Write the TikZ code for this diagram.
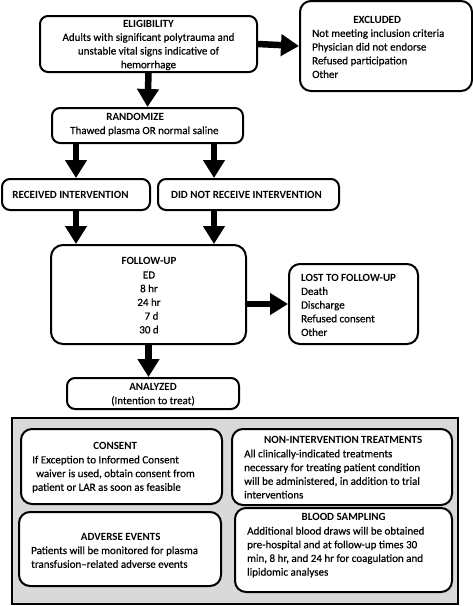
\documentclass[tikz,border=0pt]{standalone}
\usepackage{fontspec}
\setmainfont{Carlito}[UprightFeatures={FakeBold=0.4}]
\usetikzlibrary{arrows.meta}
\definecolor{panelgray}{RGB}{217,217,217}
\begin{document}
\begin{tikzpicture}[x=1pt,y=-1pt,
  frame/.style={draw, line width=2pt, rounded corners=#1, inner sep=0pt, fill=white},
  frame/.default=8pt,
  txt/.style={inner sep=0pt, font=\fontsize{11}{13.7}\selectfont},
  big/.style={-{Triangle[width=21pt,length=18pt]}, line width=6.5pt}]
\useasboundingbox (0,0) rectangle (473,606);

% ---- boxes ----
\node[frame, minimum width=217pt, minimum height=56pt] (elig) at (148.5,44) {};
\node[frame=11pt, minimum width=172pt, minimum height=90pt] (excl) at (386,46) {};
\node[frame, minimum width=191pt, minimum height=35pt] (rand) at (147.5,125.5) {};
\node[frame, minimum width=148pt, minimum height=31pt] (recv) at (76,194.5) {};
\node[frame, minimum width=181pt, minimum height=31pt] (nrecv) at (248.5,194.5) {};
\node[frame=12pt, minimum width=195pt, minimum height=99pt] (fu) at (148.5,294.5) {};
\node[frame=11pt, minimum width=129pt, minimum height=80pt] (lost) at (353.5,304) {};
\node[frame, minimum width=172pt, minimum height=31pt] (anal) at (153,393.5) {};

% ---- panel ----
\node[draw, line width=2pt, fill=panelgray, minimum width=446pt, minimum height=186pt, inner sep=0pt] (panel) at (235,511) {};
\node[frame=11pt, minimum width=201pt, minimum height=75pt] (cons) at (121.5,466.5) {};
\node[frame=11pt, minimum width=220pt, minimum height=76pt] (nonint) at (342,467) {};
\node[frame=11pt, minimum width=202pt, minimum height=74pt] (adv) at (120,549) {};
\node[frame=11pt, minimum width=217pt, minimum height=84pt] (blood) at (343.5,550) {};

% ---- texts ----
\node[txt, align=center] (eligT) at (148.5,45) {\textbf{ELIGIBILITY}\\Adults with significant polytrauma and\\unstable vital signs indicative of\\hemorrhage};
\node[txt, align=left, anchor=west] (exclT) at (312,47) {\makebox[130pt][c]{\textbf{EXCLUDED}}\\Not meeting inclusion criteria\\Physician did not endorse\\Refused participation\\Other};
\node[txt, align=left, anchor=west] (randT) at (70,124.5) {\makebox[130pt][c]{\textbf{RANDOMIZE}}\\Thawed plasma OR normal saline};
\node[txt] (recvT) at (70.5,194.5) {\textbf{RECEIVED INTERVENTION}};
\node[txt] (nrecvT) at (246.5,194.5) {\textbf{DID NOT RECEIVE INTERVENTION}};
\node[txt, align=center] (fuT) at (149,295.5) {\textbf{FOLLOW-UP}\\ED\\8 hr\\24 hr\\\hspace*{5pt}7 d\\30 d};
\node[txt, align=left, anchor=west] (lostT) at (301,305) {\textbf{LOST TO FOLLOW-UP}\\Death\\Discharge\\Refused consent\\Other};
\node[txt, align=center] (analT) at (153,394.5) {\textbf{ANALYZED}\\(Intention to treat)};

\node[txt, align=left, anchor=west] (consT) at (32,467.5) {\makebox[166pt][c]{\textbf{CONSENT}}\\If Exception to Informed Consent\\\hspace*{4pt}waiver is used, obtain consent from\\patient or LAR as soon as feasible};
\node[txt, align=left, anchor=west] (nonintT) at (244,467.5) {\makebox[198pt][c]{\textbf{NON-INTERVENTION TREATMENTS}}\\All clinically-indicated treatments\\necessary for treating patient condition\\will be administered, in addition to trial\\interventions};
\node[txt, align=left, anchor=west] (advT) at (31,550.5) {\makebox[179pt][c]{\textbf{ADVERSE EVENTS}}\\Patients will be monitored for plasma\\transfusion--related adverse events};
\node[txt, align=left, anchor=west] (bloodT) at (247,545.5) {\makebox[193pt][c]{\textbf{BLOOD SAMPLING}}\\Additional blood draws will be obtained\\pre-hospital and at follow-up times 30\\min, 8 hr, and 24 hr for coagulation and\\lipidomic analyses};

% ---- arrows ----
\draw[big] (elig.east) -- (excl.west);
\draw[big] (elig.south) -- (rand.north);
\draw[big] (rand.south -| recv.north) -- (recv.north);
\draw[big] ([xshift=66.5pt]rand.south) -- ([xshift=66.5pt]rand.south |- nrecv.north);
\draw[big] (recv.south) -- (recv.south |- fu.north);
\draw[big] ([xshift=66.5pt]rand.south |- nrecv.south) -- ([xshift=66.5pt]rand.south |- fu.north);
\draw[big] (fu.east |- lost.west) -- (lost.west);
\draw[big] (fu.south) -- (fu.south |- anal.north);
\end{tikzpicture}
\end{document}
